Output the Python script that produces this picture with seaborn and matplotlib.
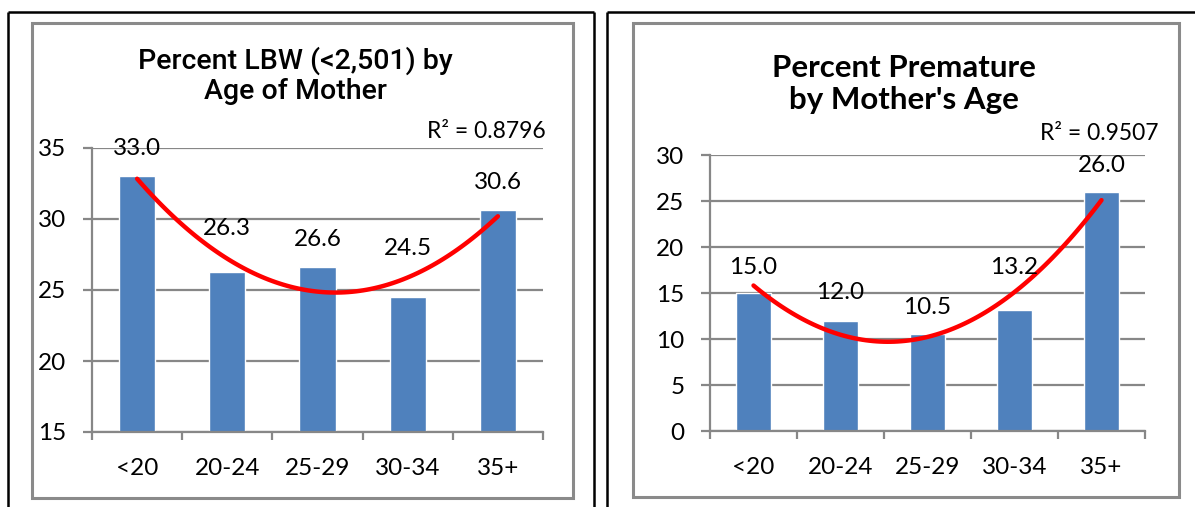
import numpy as np
import pandas as pd
import matplotlib
matplotlib.use("Agg")
import matplotlib.pyplot as plt
from matplotlib.patches import Rectangle
from matplotlib.lines import Line2D
import seaborn as sns

# ---- data ----
age_groups = ["<20", "20-24", "25-29", "30-34", "35+"]
lbw_pct = [33.0, 26.3, 26.6, 24.5, 30.6]
premature_pct = [15.0, 12.0, 10.5, 13.2, 26.0]
lbw_r2_text = "R² = 0.8796"
prem_r2_text = "R² = 0.9507"
lbw_title = "Percent LBW (<2,501) by\nAge of Mother"
prem_title = "Percent Premature\nby Mother's Age"

sns.set_theme(style="white")
plt.rcParams['font.family'] = ['Lato', 'DejaVu Sans']

W, H = 1195, 507
fig = plt.figure(figsize=(W / 100, H / 100), dpi=100)

BAR = "#4F81BD"
GRID = "#878787"
TXT = "#000000"


def fx(px):
    return px / W


def fy(py):
    return 1 - py / H


def fig_line(x0, y0, x1, y1, color, lw):
    fig.add_artist(Line2D([fx(x0), fx(x1)], [fy(y0), fy(y1)], color=color, lw=lw,
                          transform=fig.transFigure, solid_capstyle="butt"))


# black outer frames
fig_line(8, 12, 594, 12, "black", 1.8)
fig_line(8, 12, 8, 507, "black", 1.8)
fig_line(594, 12, 594, 507, "black", 1.8)
fig_line(607, 12, 1195, 12, "black", 1.8)
fig_line(607, 12, 607, 507, "black", 1.8)
# gray inner chart boxes
for (x0, y0, x1, y1) in [(32, 23, 573, 498), (633, 23, 1179, 497)]:
    fig.add_artist(Rectangle((fx(x0), fy(y1)), fx(x1) - fx(x0), fy(y0) - fy(y1),
                             transform=fig.transFigure, fill=False,
                             edgecolor="#8a8a8a", lw=2.2))


def make_panel(rect, values, ylim, yticks, label_offsets, r2_text, r2_xy,
               title, title_xy, title_kw):
    ax = fig.add_axes(rect)
    df = pd.DataFrame({"age": age_groups, "pct": values})
    sns.barplot(data=df, x="age", y="pct", color=BAR, width=0.4,
                saturation=1, ax=ax, zorder=2)
    sns.regplot(x=np.arange(len(values)), y=np.array(values), order=2, ci=None,
                scatter=False, truncate=True, ax=ax,
                line_kws=dict(color="#FF0000", lw=3.2, zorder=4,
                              solid_capstyle="round"))
    ax.set_xlim(-0.5, len(values) - 0.5)
    ax.set_ylim(*ylim)
    ax.set_yticks(yticks)
    ax.set_xlabel("")
    ax.set_ylabel("")
    ax.yaxis.grid(True, color=GRID, lw=1.6, zorder=0)
    ax.set_axisbelow(True)
    for s in ["top", "right"]:
        ax.spines[s].set_visible(False)
    for s in ["left", "bottom"]:
        ax.spines[s].set_color(GRID)
        ax.spines[s].set_linewidth(1.6)
    ax.tick_params(axis="y", length=6.5, width=1.6, color=GRID, pad=12,
                   labelsize=17.5, labelcolor=TXT, left=True)
    ax.set_xticks(np.arange(len(values)))
    ax.set_xticklabels(age_groups)
    ax.set_xticks(np.arange(-0.5, len(values)), minor=True)
    ax.tick_params(axis="x", which="major", length=0, pad=19, labelsize=17.5,
                   labelcolor=TXT)
    ax.tick_params(axis="x", which="minor", length=6, width=1.6, color=GRID,
                   bottom=True)
    for i, v in enumerate(values):
        ax.annotate(f"{v:.1f}", (i, v), xytext=(0, label_offsets[i]),
                    textcoords="offset pixels", ha="center", va="center",
                    fontsize=17.5, color=TXT, zorder=5)
    fig.text(fx(r2_xy[0]), fy(r2_xy[1]), r2_text, ha="right", va="center",
             fontsize=16.5, color=TXT)
    fig.text(fx(title_xy[0]), fy(title_xy[1]), title, ha="center", va="center",
             color=TXT, **title_kw)
    return ax


make_panel([fx(92), fy(432), fx(543) - fx(92), fy(148) - fy(432)],
           lbw_pct, (15, 35), [15, 20, 25, 30, 35],
           [28, 43, 28, 49, 28], lbw_r2_text, (546, 132),
           lbw_title, (295, 76),
           dict(fontsize=20.5, family=["Roboto", "Liberation Sans"],
                fontweight="medium", linespacing=1.15))

make_panel([fx(710), fy(431), fx(1145) - fx(710), fy(155) - fy(431)],
           premature_pct, (0, 30), [0, 5, 10, 15, 20, 25, 30],
           [26, 28, 27, 42, 26], prem_r2_text, (1158, 134),
           prem_title, (904, 84),
           dict(fontsize=22.5, fontweight="bold", linespacing=1.2))

fig.savefig("out.png", dpi=100)
